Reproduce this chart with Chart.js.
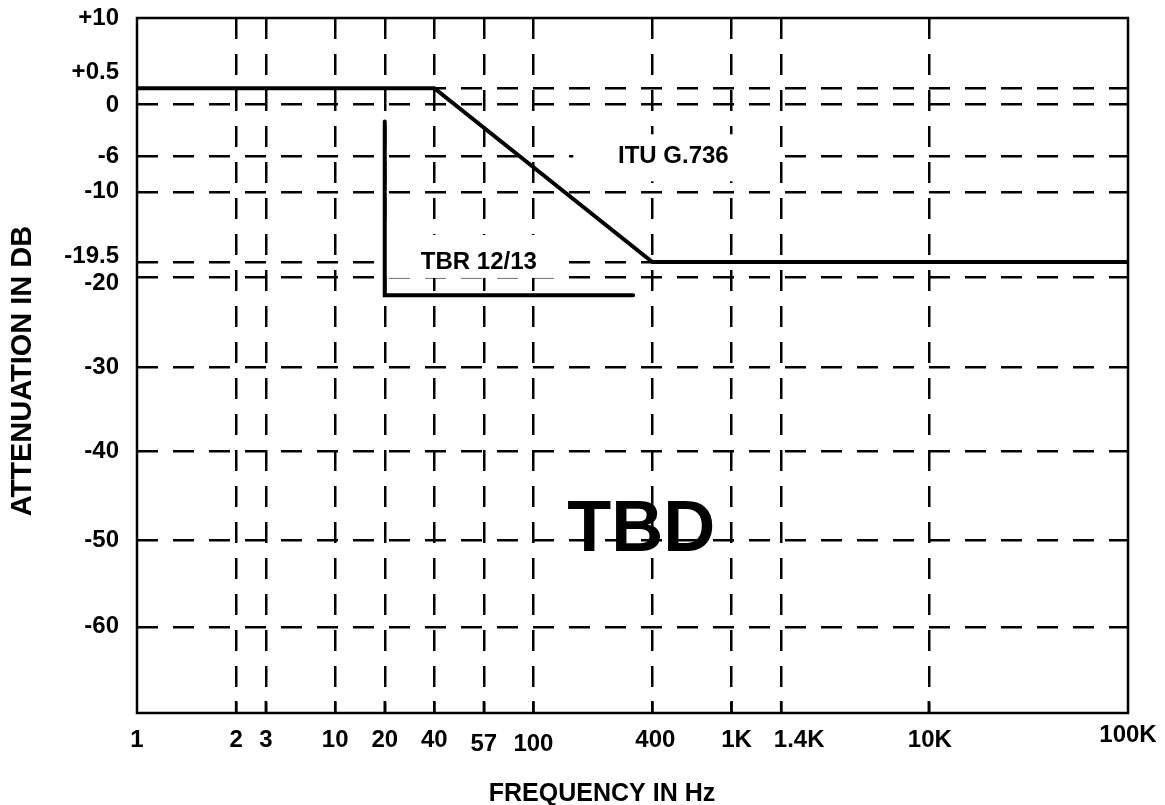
<!DOCTYPE html>
<html>
<head>
<meta charset="utf-8">
<title>Attenuation vs frequency</title>
<script src="https://cdn.jsdelivr.net/npm/chart.js@4.4.1/dist/chart.umd.min.js"></script>
<style>
  html, body { margin: 0; padding: 0; background: #fff; }
  canvas { display: block; }
</style>
</head>
<body>
<canvas id="myChart" width="1165" height="805"></canvas>
<script>
'use strict';

// tick values + labels
const freqTicks = [1, 2, 3, 10, 20, 40, 57, 100, 400, 1000, 1400, 10000, 100000];
const freqLabels = ['1', '2', '3', '10', '20', '40', '57', '100', '400', '1K', '1.4K', '10K', '100K'];
const attTicks = [10, 0.5, 0, -6, -10, -19.5, -20, -30, -40, -50, -60];
const attLabels = ['+10', '+0.5', '0', '-6', '-10', '-19.5', '-20', '-30', '-40', '-50', '-60'];

// ITU G.736 mask
const ituFreq = [1, 40, 400, 100000];
const ituAtt = [0.5, 0.5, -19.5, -19.5];

// TBR 12/13 mask
const tbrFreq = [20, 20, 320];
const tbrAtt = [-2, -22, -22];

// the original drawing is a sketch, the axes are not uniform
// so each axis gets a list of stops and where they sit along the axis (0..1)
const freqStops = [1, 2, 3, 10, 20, 40, 57, 100, 400, 1000, 1400, 10000, 100000];
const freqPlace = [0, 0.100, 0.130, 0.200, 0.250, 0.300, 0.350, 0.400, 0.520, 0.600, 0.650, 0.799, 1];
const attStops = [-70, -60, -50, -40, -30, -20, -19.5, -10, -6, 0, 0.5, 10];
const attPlace = [0, 0.124, 0.249, 0.376, 0.498, 0.627, 0.649, 0.750, 0.801, 0.876, 0.899, 1];

// label nudges, as in the original drawing
const attLabelShift = [0, -16, 1, 0, 0, -6, 6, 0, 0, 0, 0];
const freqLabelShiftX = [0, 0, 0, 0, 0, 0, 0, 0, 3, 5, 18, 1, 0];
const freqLabelShiftY = [0, 0, 0, 0, 0, 0, 4, 4, 0, 0, 0, 0, -5];

const xTitle = 'FREQUENCY IN Hz';
const yTitle = 'ATTENUATION IN DB';

const notes = [
  { text: 'ITU G.736', freq: 510, att: -6, size: 24, box: [-100, 103, -22, 25] },
  { text: 'TBR 12/13', freq: 55, att: -19.5, size: 24, box: [-93, 83, -27, 16] },
  { text: 'TBD', freq: 352, att: -49, size: 72 }
];

const fontFamily = '"Liberation Sans", Arial, sans-serif';

class StopScale extends Chart.LinearScale {
  toDecimal(v) {
    let stops = this.options.stops;
    let place = this.options.place;
    let f = this.options.logSteps ? Math.log10 : (t) => t;
    if (v <= stops[0]) return place[0];
    for (let i = 0; i < stops.length - 1; i++) {
      if (v <= stops[i + 1]) {
        let t = (f(v) - f(stops[i])) / (f(stops[i + 1]) - f(stops[i]));
        return place[i] + t * (place[i + 1] - place[i]);
      }
    }
    return place[place.length - 1];
  }
  getPixelForValue(value) {
    if (value === null || value === undefined || isNaN(value)) return NaN;
    return this.getPixelForDecimal(this.toDecimal(value));
  }
  getValueForPixel(pixel) {
    let d = this.getDecimalForPixel(pixel);
    let stops = this.options.stops;
    let place = this.options.place;
    for (let i = 0; i < place.length - 1; i++) {
      if (d <= place[i + 1]) {
        let t = (d - place[i]) / (place[i + 1] - place[i]);
        if (this.options.logSteps) {
          return Math.pow(10, Math.log10(stops[i]) + t * (Math.log10(stops[i + 1]) - Math.log10(stops[i])));
        }
        return stops[i] + t * (stops[i + 1] - stops[i]);
      }
    }
    return stops[stops.length - 1];
  }
}
StopScale.id = 'stops';
StopScale.defaults = {};
Chart.register(StopScale);

function toPoints(xs, ys) {
  let pts = [];
  for (let i = 0; i < xs.length; i++) {
    pts.push({ x: xs[i], y: ys[i] });
  }
  return pts;
}

const extras = {
  id: 'extras',
  beforeDatasetsDraw(chart) {
    let ctx = chart.ctx;
    let x = chart.scales.x;
    let y = chart.scales.y;
    ctx.save();
    for (let i = 0; i < notes.length; i++) {
      let n = notes[i];
      let px = x.getPixelForValue(n.freq);
      let py = y.getPixelForValue(n.att);
      if (n.box) {
        ctx.fillStyle = '#fff';
        ctx.fillRect(px + n.box[0], py + n.box[2], n.box[1] - n.box[0], n.box[3] - n.box[2]);
      }
      ctx.fillStyle = '#000';
      ctx.font = 'bold ' + n.size + 'px ' + fontFamily;
      ctx.textAlign = 'center';
      ctx.textBaseline = 'middle';
      ctx.fillText(n.text, px, py);
    }
    ctx.restore();
  },
  afterDatasetsDraw(chart) {
    let ctx = chart.ctx;
    let area = chart.chartArea;
    let x = chart.scales.x;
    let y = chart.scales.y;
    ctx.save();
    ctx.strokeStyle = '#000';
    ctx.lineWidth = 2.5;
    ctx.strokeRect(area.left, area.top, area.right - area.left, area.bottom - area.top);
    // small ticks along the bottom edge
    ctx.beginPath();
    for (let i = 1; i < freqTicks.length - 1; i++) {
      let px = x.getPixelForValue(freqTicks[i]);
      ctx.moveTo(px, area.bottom);
      ctx.lineTo(px, area.bottom - 12);
    }
    ctx.stroke();

    ctx.fillStyle = '#000';
    ctx.font = 'bold 24px ' + fontFamily;
    ctx.textBaseline = 'middle';
    // y labels
    ctx.textAlign = 'right';
    for (let i = 0; i < attTicks.length; i++) {
      let py = y.getPixelForValue(attTicks[i]) + attLabelShift[i];
      ctx.fillText(attLabels[i], area.left - 18, py);
    }
    // x labels
    ctx.textAlign = 'center';
    for (let i = 0; i < freqTicks.length; i++) {
      let px = x.getPixelForValue(freqTicks[i]) + freqLabelShiftX[i];
      ctx.fillText(freqLabels[i], px, area.bottom + 27 + freqLabelShiftY[i]);
    }

    // axis titles
    ctx.font = 'bold 25px ' + fontFamily;
    ctx.fillText(xTitle, area.left + 465, area.bottom + 81);
    ctx.save();
    ctx.translate(23, area.top + 353);
    ctx.rotate(-Math.PI / 2);
    ctx.font = 'bold 29px ' + fontFamily;
    ctx.fillText(yTitle, 0, 0);
    ctx.restore();

    ctx.restore();
  }
};

const ctx = document.getElementById('myChart');

new Chart(ctx, {
  type: 'scatter',
  data: {
    datasets: [{
      label: 'ITU G.736',
      data: toPoints(ituFreq, ituAtt),
      showLine: true,
      borderColor: '#000',
      borderWidth: 4,
      pointRadius: 0,
      tension: 0,
      fill: false
    }, {
      label: 'TBR 12/13',
      data: toPoints(tbrFreq, tbrAtt),
      showLine: true,
      borderColor: '#000',
      borderWidth: 4,
      borderCapStyle: 'round',
      pointRadius: 0,
      tension: 0,
      fill: false
    }]
  },
  options: {
    responsive: false,
    animation: false,
    events: [],
    layout: { padding: { left: 0, top: 18, right: 37, bottom: 0 } },
    plugins: {
      legend: { display: false },
      tooltip: { enabled: false }
    },
    scales: {
      x: {
        type: 'stops',
        stops: freqStops,
        place: freqPlace,
        logSteps: true,
        min: 1,
        max: 100000,
        afterBuildTicks: (scale) => {
          scale.ticks = freqTicks.map((v) => ({ value: v }));
        },
        afterFit: (scale) => {
          scale.height = 92;
        },
        ticks: { display: false },
        grid: {
          drawTicks: false,
          lineWidth: 2.5,
          color: (c) => (c.tick && (c.tick.value === 1 || c.tick.value === 100000)) ? 'rgba(0,0,0,0)' : '#000'
        },
        border: { display: false, dash: [21, 15] }
      },
      y: {
        type: 'stops',
        stops: attStops,
        place: attPlace,
        logSteps: false,
        min: -70,
        max: 10,
        afterBuildTicks: (scale) => {
          scale.ticks = attTicks.map((v) => ({ value: v }));
        },
        afterFit: (scale) => {
          scale.width = 137;
        },
        ticks: { display: false },
        grid: {
          drawTicks: false,
          lineWidth: 2.5,
          color: (c) => (c.tick && c.tick.value === 10) ? 'rgba(0,0,0,0)' : '#000'
        },
        border: { display: false, dash: [21, 15] }
      }
    }
  },
  plugins: [extras]
});
</script>
</body>
</html>
